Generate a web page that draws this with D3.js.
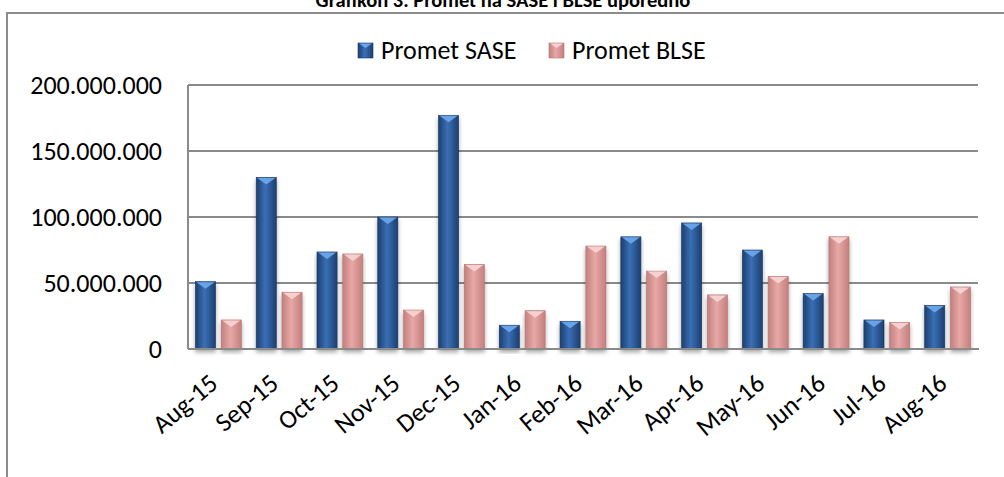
<!DOCTYPE html>
<html>
<head>
<meta charset="utf-8">
<script src="https://cdn.jsdelivr.net/npm/d3@7"></script>
<style>
  html, body { margin: 0; padding: 0; background: #fff; }
  svg { display: block; }
  text { font-family: Carlito, "Open Sans", Lato, sans-serif; fill: #000; }
</style>
</head>
<body>
<svg id="chart" width="1004" height="477"></svg>
<script>
const categories = ["Aug-15","Sep-15","Oct-15","Nov-15","Dec-15","Jan-16","Feb-16","Mar-16","Apr-16","May-16","Jun-16","Jul-16","Aug-16"];
const seriesNames = ["Promet SASE","Promet BLSE"];
const saseValues = [51000000,130000000,73500000,100000000,177000000,18000000,21000000,85000000,95500000,75000000,42000000,22000000,33000000];
const blseValues = [22000000,43000000,72000000,29500000,64000000,29000000,78000000,59000000,41000000,55000000,85000000,20000000,47000000];
const yTicks = [0,50000000,100000000,150000000,200000000];
const titleText = "Grafikon 3. Promet na SASE i BLSE uporedno";

const FONT = "Carlito, 'Open Sans', Lato, sans-serif";
const svg = d3.select("#chart");
const defs = svg.append("defs");

function hGrad(id, edge, mid) {
  const g = defs.append("linearGradient").attr("id", id).attr("x1","0%").attr("x2","100%").attr("y1","0%").attr("y2","0%");
  g.append("stop").attr("offset","0%").attr("stop-color", edge);
  g.append("stop").attr("offset","45%").attr("stop-color", mid);
  g.append("stop").attr("offset","100%").attr("stop-color", edge);
}
hGrad("gBlue", "#1d3f70", "#3a6fb5");
hGrad("gPink", "#c2807e", "#e8a8a6");
const flt = defs.append("filter").attr("id","shadow").attr("x","-30%").attr("y","-10%").attr("width","160%").attr("height","130%");
flt.append("feDropShadow").attr("dx",0).attr("dy",3).attr("stdDeviation",2.2).attr("flood-color","#000").attr("flood-opacity",0.35);

const colors = {
  "Promet SASE": {fill:"url(#gBlue)", top:"#6aa6ea", edge:"#1a3866"},
  "Promet BLSE": {fill:"url(#gPink)", top:"#f6d3d1", edge:"#b67371"}
};

svg.append("path").attr("d","M7,477 L7,13 L1004,13").attr("fill","none").attr("stroke","#8c8c8c").attr("stroke-width",2);

svg.append("text").attr("x",503).attr("y",7).attr("text-anchor","middle")
  .style("font-size","20.5px").style("font-weight","bold").style("font-family", FONT).text(titleText);

const pLeft = 188, pRight = 978, pTop = 85, pBottom = 349;
const y = d3.scaleLinear().domain([0,200000000]).range([pBottom, pTop]);
const x0 = d3.scaleBand().domain(categories).range([pLeft, pRight]).paddingInner(0.245).paddingOuter(0.1225);
const x1 = d3.scaleBand().domain(seriesNames).range([0, x0.bandwidth()]).paddingInner(0.22).paddingOuter(0);

svg.append("g").selectAll("line").data(yTicks.filter(d => d > 0)).join("line")
  .attr("x1", pLeft).attr("x2", pRight).attr("y1", d => y(d)).attr("y2", d => y(d))
  .attr("stroke","#8a8a8a").attr("stroke-width",2);

const fmt = d => d === 0 ? "0" : d3.format(",")(d).replace(/,/g, ".");
const yAxis = d3.axisLeft(y).tickValues(yTicks).tickFormat(fmt).tickSize(0).tickPadding(26);
const yg = svg.append("g").attr("transform", `translate(${pLeft},0)`).call(yAxis);
yg.select(".domain").remove();
yg.selectAll("text").style("font-size","26px").style("font-family", FONT).attr("fill","#000");

svg.append("line").attr("x1",pLeft).attr("x2",pLeft).attr("y1",pTop).attr("y2",pBottom).attr("stroke","#8a8a8a").attr("stroke-width",2);

const data = categories.map((c,i) => ({cat:c, vals:[{s:"Promet SASE", v:saseValues[i]},{s:"Promet BLSE", v:blseValues[i]}]}));
const groups = svg.append("g").selectAll("g").data(data).join("g")
  .attr("transform", d => `translate(${x0(d.cat)},0)`);
const bars = groups.selectAll("g").data(d => d.vals).join("g").attr("filter","url(#shadow)");
bars.append("rect")
  .attr("x", d => x1(d.s)).attr("y", d => y(d.v))
  .attr("width", x1.bandwidth()).attr("height", d => y(0) - y(d.v))
  .attr("fill", d => colors[d.s].fill)
  .attr("stroke", d => colors[d.s].edge).attr("stroke-width", 0.6);
bars.append("path")
  .attr("d", d => {
    const xa = x1(d.s), w = x1.bandwidth(), yt = y(d.v);
    return `M${xa+1},${yt+0.5} L${xa+w-1},${yt+0.5} L${xa+w/2},${yt+7} Z`;
  })
  .attr("fill", d => colors[d.s].top).attr("opacity",0.95);

svg.append("line").attr("x1",pLeft).attr("x2",pRight+1).attr("y1",pBottom).attr("y2",pBottom).attr("stroke","#8a8a8a").attr("stroke-width",2);

const xAxis = d3.axisBottom(x0).tickSize(0).tickPadding(0);
const xg = svg.append("g").attr("transform", `translate(0,${pBottom})`).call(xAxis);
xg.select(".domain").remove();
xg.selectAll("text")
  .style("font-size","26px").style("font-family", FONT).attr("fill","#000")
  .attr("text-anchor","end")
  .attr("dy", null)
  .attr("y", 0)
  .attr("transform","translate(1,37) rotate(-40)");

const legend = svg.append("g");
const lx = [358, 549];
seriesNames.forEach((s,i) => {
  legend.append("rect").attr("x", lx[i]).attr("y", 43).attr("width", 15).attr("height", 15)
    .attr("fill", colors[s].fill).attr("stroke", colors[s].edge).attr("stroke-width",0.6);
  legend.append("path").attr("d", `M${lx[i]+1},${43.5} L${lx[i]+14},${43.5} L${lx[i]+7.5},${48} Z`).attr("fill", colors[s].top);
  legend.append("text").attr("x", lx[i]+23).attr("y", 59).style("font-size","26px").style("font-family", FONT).text(s);
});
</script>
</body>
</html>
